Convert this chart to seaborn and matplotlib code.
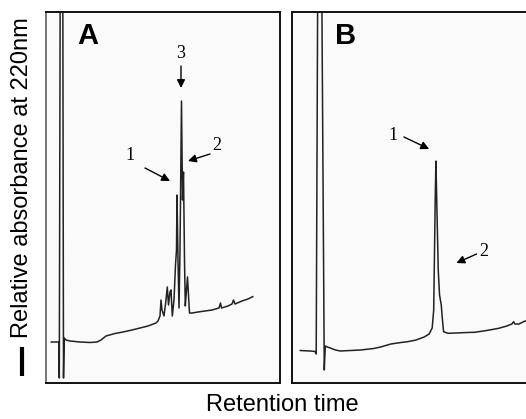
import matplotlib
matplotlib.use("Agg")
import matplotlib.pyplot as plt
from matplotlib.lines import Line2D
import seaborn as sns

# chromatogram A (arbitrary retention units / relative absorbance)
time_a = [5, 12.8, 13.3, 14.2, 16.8, 17.5, 18.2, 20, 24, 34, 44, 51, 55, 60, 69, 77, 86, 94,
          102, 110, 112, 114, 115, 116, 118, 120, 121.3, 122.5, 124, 125, 126.3, 128, 129.5,
          130.5, 131, 132, 133, 134, 135.5, 136.5, 137.5, 138.5, 139.3, 140.5, 141.5, 142.5,
          143.5, 146, 152, 159, 166, 173, 174.5, 175.5, 182, 186, 187.5, 189, 196, 202, 207]
abs_a = [41, 41, 5, 400, 400, 5, 45, 43, 42, 41, 40.5, 41, 43, 47, 49.5, 51, 53, 55,
         57, 60, 62, 67, 83, 73, 67, 83, 96, 78, 91, 93, 67, 83, 118,
         133, 188, 123, 75, 133, 282, 183, 211, 123, 77, 93, 106, 88,
         70, 70, 71, 72, 73, 75, 80, 75, 77, 79, 83, 79, 82, 84, 86.5]

# chromatogram B
time_b = [8, 18, 23, 24, 25.5, 29.5, 32, 33, 35, 38, 43, 48, 58, 68, 81, 88, 98, 108, 114.7,
          123, 131, 136, 139, 140.5, 142, 142.7, 143.5, 145, 146.3, 147.3, 148, 149, 150.3,
          154.7, 163, 173, 181, 193, 205, 213, 218, 219.7, 221, 225, 230, 234]
abs_b = [32.5, 32, 31.5, 29, 400, 400, 13, 37, 36, 35, 33, 32, 32.5, 33, 34.5, 36, 39, 40.5, 41.3,
         43, 46, 49, 55, 73, 183, 222, 183, 113, 88, 82, 78, 65, 51.3,
         49.7, 50, 50.5, 50.7, 52.5, 54.7, 57, 59, 61.3, 59, 59, 61.5, 63]

# peak labels: (text, text x, text y, arrow tail x, tail y, head x, head y)
labels_a = [("3", 135, 330, 135, 317, 135, 295),
            ("1", 84, 228, 99, 215, 124, 202),
            ("2", 171, 238, 164, 229, 142, 222)]
labels_b = [("1", 99.7, 248, 111, 246, 136, 234),
            ("2", 189.7, 131, 183, 129, 163, 120)]

sns.set_style("white")
plt.rcParams['font.family'] = ['Liberation Sans', 'DejaVu Sans']
plt.rcParams['text.color'] = 'black'

fig = plt.figure(figsize=(5.26, 4.19), dpi=100)
W, H = 526, 419
ax_a = fig.add_axes([46 / W, 36 / H, 234 / W, 371 / H])
ax_b = fig.add_axes([292 / W, 36 / H, 236 / W, 371 / H])

panels = [(ax_a, time_a, abs_a, labels_a, "A", 42),
          (ax_b, time_b, abs_b, labels_b, "B", 53)]

for ax, t, a, labels, letter, lx in panels:
    ax.set_facecolor("#fafafa")
    sns.lineplot(x=t, y=a, ax=ax, sort=False, estimator=None, color="#222222", lw=1.1)
    ax.set_xlim(0, 234)
    ax.set_ylim(0, 371)
    ax.set_xticks([])
    ax.set_yticks([])
    ax.set_xlabel("")
    ax.set_ylabel("")
    for side, sp in ax.spines.items():
        sp.set_visible(True)
        sp.set_color("#111111")
        sp.set_linewidth(1.4)
    ax.text(lx, 347, letter, fontsize=21, fontweight="bold", ha="center", va="center",
            family="Liberation Sans")
    for txt, tx, ty, x0, y0, x1, y1 in labels:
        ax.text(tx, ty, txt, fontsize=13, family="Liberation Serif", ha="center", va="center")
        ax.annotate("", xy=(x1, y1), xytext=(x0, y0),
                    arrowprops=dict(arrowstyle="-|>", color="black", lw=1.0,
                                    mutation_scale=12, shrinkA=0, shrinkB=0))

ax_a.spines["left"].set_color("#777777")

fig.text(22 / W, 1 - 178 / H, "Relative absorbance at 220nm", rotation=90,
         fontsize=17, ha="center", va="center")
fig.add_artist(Line2D([21.5 / W, 21.5 / W], [1 - 347 / H, 1 - 376 / H],
                      transform=fig.transFigure, color="black", lw=3.0,
                      solid_capstyle="butt"))
fig.text(282 / W, 1 - 405 / H, "Retention time", fontsize=17, ha="center", va="center")

fig.savefig("out.png", dpi=100, facecolor="white")
